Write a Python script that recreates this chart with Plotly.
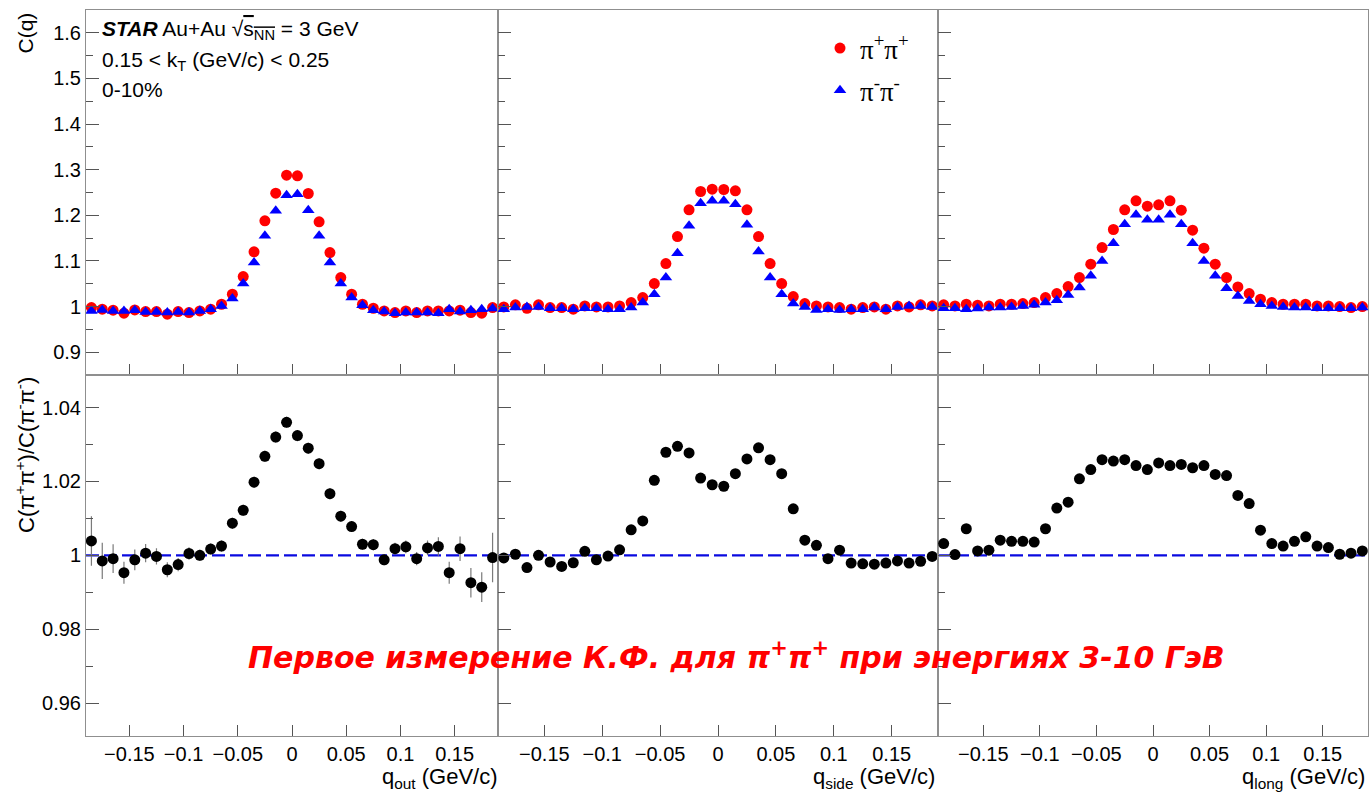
import plotly.graph_objects as go

# ---------------- data ----------------
q_bins = [-0.185, -0.175, -0.165, -0.155, -0.145, -0.135, -0.125, -0.115, -0.105, -0.095,
          -0.085, -0.075, -0.065, -0.055, -0.045, -0.035, -0.025, -0.015, -0.005, 0.005,
          0.015, 0.025, 0.035, 0.045, 0.055, 0.065, 0.075, 0.085, 0.095, 0.105,
          0.115, 0.125, 0.135, 0.145, 0.155, 0.165, 0.175, 0.185]

out_pp = [0.9978, 0.9942, 0.9920, 0.9854, 0.9927, 0.9890, 0.9890, 0.9832, 0.9890, 0.9868,
          0.9905, 0.9942, 1.0051, 1.0270, 1.0658, 1.1199, 1.1879, 1.2485, 1.2880, 1.2865,
          1.2478, 1.1857, 1.1184, 1.0636, 1.0270, 1.0051, 0.9963, 0.9905, 0.9868, 0.9905,
          0.9868, 0.9905, 0.9905, 0.9905, 0.9920, 0.9868, 0.9854, 0.9978]
out_mm = [0.9905, 0.9927, 0.9905, 0.9905, 0.9920, 0.9883, 0.9883, 0.9868, 0.9883, 0.9868,
          0.9905, 0.9942, 1.0015, 1.0175, 1.0504, 1.0965, 1.1550, 1.2098, 1.2442, 1.2463,
          1.2113, 1.1550, 1.0965, 1.0504, 1.0197, 1.0029, 0.9920, 0.9890, 0.9854, 0.9868,
          0.9868, 0.9868, 0.9854, 0.9942, 0.9890, 0.9920, 0.9942, 0.9956]

side_pp = [0.9993, 1.0037, 0.9963, 1.0037, 0.9978, 0.9978, 0.9942, 1.0015, 0.9993, 0.9993,
           1.0015, 1.0088, 1.0197, 1.0504, 1.0943, 1.1535, 1.2120, 1.2522, 1.2573, 1.2566,
           1.2537, 1.2120, 1.1535, 1.0943, 1.0504, 1.0219, 1.0066, 1.0015, 0.9993, 0.9978,
           0.9942, 0.9978, 0.9993, 0.9942, 1.0015, 0.9993, 1.0037, 1.0015]
side_mm = [0.9942, 0.9978, 0.9993, 0.9993, 0.9963, 0.9963, 0.9942, 0.9963, 0.9963, 0.9942,
           0.9942, 0.9978, 1.0088, 1.0270, 1.0636, 1.1170, 1.1769, 1.2266, 1.2317, 1.2317,
           1.2244, 1.1791, 1.1206, 1.0636, 1.0270, 1.0066, 0.9993, 0.9927, 0.9942, 0.9927,
           0.9942, 0.9942, 0.9978, 0.9942, 0.9993, 1.0015, 1.0015, 0.9993]

long_pp = [1.0037, 1.0015, 1.0051, 1.0029, 1.0015, 1.0051, 1.0051, 1.0066, 1.0088, 1.0197,
           1.0285, 1.0439, 1.0636, 1.0928, 1.1294, 1.1689, 1.2120, 1.2317, 1.2200, 1.2230,
           1.2317, 1.2113, 1.1674, 1.1279, 1.0928, 1.0636, 1.0431, 1.0285, 1.0161, 1.0088,
           1.0051, 1.0051, 1.0051, 1.0015, 1.0015, 1.0000, 0.9978, 1.0000]
long_mm = [0.9963, 0.9963, 0.9942, 0.9956, 0.9978, 0.9978, 0.9993, 1.0015, 1.0037, 1.0088,
           1.0139, 1.0256, 1.0417, 1.0673, 1.1001, 1.1389, 1.1806, 1.2010, 1.1901, 1.1901,
           1.2010, 1.1806, 1.1389, 1.1001, 1.0673, 1.0402, 1.0234, 1.0124, 1.0051, 1.0015,
           0.9993, 0.9978, 0.9978, 0.9963, 0.9963, 0.9963, 0.9963, 0.9978]

ratio_out = [1.0039, 0.9985, 0.9991, 0.9953, 0.9988, 1.0006, 0.9997, 0.9961, 0.9975, 1.0005,
             1.0000, 1.0017, 1.0025, 1.0087, 1.0122, 1.0198, 1.0268, 1.0320, 1.0360, 1.0324,
             1.0290, 1.0248, 1.0167, 1.0106, 1.0078, 1.0030, 1.0029, 0.9988, 1.0018, 1.0023,
             0.9991, 1.0020, 1.0024, 0.9953, 1.0018, 0.9926, 0.9914, 0.9994]
ratio_out_err = [0.0067, 0.0049, 0.0039, 0.0030, 0.0028, 0.0025, 0.0022, 0.0020, 0.0018, 0.0017,
                 0.0015, 0.0015, 0.0015, 0.0015, 0.0015, 0.0015, 0.0015, 0.0015, 0.0015, 0.0015,
                 0.0015, 0.0015, 0.0015, 0.0015, 0.0015, 0.0015, 0.0015, 0.0015, 0.0016, 0.0017,
                 0.0018, 0.0020, 0.0025, 0.0030, 0.0033, 0.0040, 0.0040, 0.0067]
ratio_side = [0.9993, 1.0003, 0.9967, 1.0000, 0.9982, 0.9970, 0.9980, 1.0011, 0.9988, 0.9998,
              1.0015, 1.0069, 1.0093, 1.0203, 1.0279, 1.0295, 1.0277, 1.0209, 1.0191, 1.0187,
              1.0221, 1.0261, 1.0291, 1.0259, 1.0221, 1.0126, 1.0041, 1.0027, 0.9991, 1.0014,
              0.9979, 0.9977, 0.9976, 0.9979, 0.9985, 0.9979, 0.9984, 0.9997]
ratio_long = [1.0032, 1.0002, 1.0072, 1.0012, 1.0014, 1.0041, 1.0038, 1.0038, 1.0036, 1.0072,
              1.0128, 1.0144, 1.0207, 1.0232, 1.0259, 1.0255, 1.0259, 1.0243, 1.0232, 1.0250,
              1.0243, 1.0246, 1.0237, 1.0243, 1.0219, 1.0216, 1.0162, 1.0140, 1.0068, 1.0032,
              1.0025, 1.0038, 1.0050, 1.0025, 1.0021, 1.0003, 1.0006, 1.0012]

x_titles = ["q<sub>out</sub> (GeV/c)", "q<sub>side</sub> (GeV/c)", "q<sub>long</sub> (GeV/c)"]

# ---------------- style ----------------
W, H = 1369, 795
FONT = "Liberation Sans"
FRAME = "#8f8f8f"
TICKC = "#555555"
RED = "#ff0000"
BLUE = "#0000ff"

def px_x(p):
    return p / W

def px_y(p):
    return (H - p) / H

x_doms = [[px_x(86), px_x(498)], [px_x(498), px_x(938)], [px_x(938), px_x(1368)]]
y_top = [px_y(375), px_y(10)]
y_bot = [px_y(735.7), px_y(375)]

fig = go.Figure()

top_sets = [(out_pp, out_mm), (side_pp, side_mm), (long_pp, long_mm)]
ratios = [(ratio_out, ratio_out_err), (ratio_side, None), (ratio_long, None)]

for i, (pp, mm) in enumerate(top_sets):
    xa = "x" if i == 0 else f"x{i+1}"
    ya = "y" if i == 0 else f"y{i+1}"
    fig.add_trace(go.Scatter(x=q_bins, y=pp, mode="markers", xaxis=xa, yaxis=ya,
                             marker=dict(symbol="circle", size=11, color=RED),
                             name="π<sup>+</sup>π<sup>+</sup>", legendgroup="pp",
                             showlegend=(i == 0)))
    fig.add_trace(go.Scatter(x=q_bins, y=mm, mode="markers", xaxis=xa, yaxis=ya,
                             marker=dict(symbol="triangle-up", size=11, color=BLUE),
                             name="π<sup>-</sup>π<sup>-</sup>", legendgroup="mm",
                             showlegend=(i == 0)))

for i, (r, e) in enumerate(ratios):
    xa = f"x{i+4}"
    ya = f"y{i+4}"
    err = None
    if e is not None:
        err = dict(type="data", array=e, visible=True, color="#7a7a7a", thickness=1.2, width=0)
    fig.add_trace(go.Scatter(x=q_bins, y=r, mode="markers", xaxis=xa, yaxis=ya,
                             marker=dict(symbol="circle", size=11, color="black"),
                             error_y=err, showlegend=False))

axis_common = dict(showgrid=False, zeroline=False, showline=True, linecolor=FRAME,
                   linewidth=1, mirror=True, ticks="inside", tickcolor=TICKC,
                   tickwidth=1, tickfont=dict(family=FONT, size=20, color="black"))

layout = {}
for i in range(6):
    xname = "xaxis" if i == 0 else f"xaxis{i+1}"
    yname = "yaxis" if i == 0 else f"yaxis{i+1}"
    xa_id = "x" if i == 0 else f"x{i+1}"
    ya_id = "y" if i == 0 else f"y{i+1}"
    col = i % 3
    top = i < 3
    layout[xname] = dict(axis_common, domain=x_doms[col], anchor=ya_id,
                         range=[-0.19, 0.19], tick0=0, dtick=0.05, ticklen=11,
                         showticklabels=not top)
    if top:
        layout[yname] = dict(axis_common, domain=y_top, anchor=xa_id,
                             range=[0.85, 1.65], tick0=0.9, dtick=0.1, ticklen=13,
                             minor=dict(ticks="inside", dtick=0.05, tick0=0.9, ticklen=6.5,
                                        tickcolor=TICKC, tickwidth=1),
                             showticklabels=(col == 0))
    else:
        layout[yname] = dict(axis_common, domain=y_bot, anchor=xa_id,
                             range=[0.9512, 1.0488], tick0=0.96, dtick=0.02, ticklen=13,
                             minor=dict(ticks="inside", dtick=0.01, tick0=0.96, ticklen=6.5,
                                        tickcolor=TICKC, tickwidth=1),
                             showticklabels=(col == 0))

fig.update_layout(**layout)

# dashed reference line at 1 in ratio panels
for i in range(3):
    fig.add_shape(type="line", xref=f"x{i+4} domain", yref=f"y{i+4}",
                  x0=0, x1=1, y0=1, y1=1, layer="below",
                  line=dict(color="#0a0ae0", width=2.4, dash="13px,5px"))

ann = []
ann.append(dict(x=px_x(100), y=px_y(30), xref="paper", yref="paper", xanchor="left",
                yanchor="middle", showarrow=False,
                text="<b><i>STAR</i></b> Au+Au √<span style='text-decoration:overline'>s<sub>NN</sub></span> = 3 GeV",
                font=dict(family=FONT, size=21, color="black")))
ann.append(dict(x=px_x(100), y=px_y(61), xref="paper", yref="paper", xanchor="left",
                yanchor="middle", showarrow=False,
                text="0.15 < k<sub>T</sub> (GeV/c) < 0.25",
                font=dict(family=FONT, size=21, color="black")))
ann.append(dict(x=px_x(100), y=px_y(90), xref="paper", yref="paper", xanchor="left",
                yanchor="middle", showarrow=False, text="0-10%",
                font=dict(family=FONT, size=21, color="black")))
# axis titles
ann.append(dict(x=px_x(25), y=px_y(10), xref="paper", yref="paper", xanchor="center",
                yanchor="top", showarrow=False, textangle=-90, text="C(q)",
                font=dict(family=FONT, size=21, color="black")))
ann.append(dict(x=px_x(25), y=px_y(375), xref="paper", yref="paper", xanchor="center",
                yanchor="top", showarrow=False, textangle=-90,
                text="C(π<sup>+</sup>π<sup>+</sup>)/C(π<sup>-</sup>π<sup>-</sup>)",
                font=dict(family=FONT, size=22, color="black")))
for i, xr in enumerate([500, 937, 1367]):
    ann.append(dict(x=px_x(xr), y=px_y(778), xref="paper", yref="paper", xanchor="right",
                    yanchor="middle", showarrow=False, text=x_titles[i],
                    font=dict(family=FONT, size=22, color="black")))
# highlighted remark
ann.append(dict(x=px_x(736), y=px_y(655), xref="paper", yref="paper", xanchor="center",
                yanchor="middle", showarrow=False,
                text="<b><i>Первое измерение К.Ф. для π<sup>+</sup>π<sup>+</sup> при энергиях 3-10 ГэВ</i></b>",
                font=dict(family="DejaVu Sans", size=30, color="#ff0000")))

fig.update_layout(
    width=W, height=H,
    margin=dict(l=0, r=0, t=0, b=0),
    paper_bgcolor="white", plot_bgcolor="white",
    annotations=ann,
    showlegend=True,
    legend=dict(x=px_x(820), y=px_y(24), xanchor="left", yanchor="top",
                bgcolor="rgba(0,0,0,0)", borderwidth=0,
                font=dict(family="Liberation Serif", size=27, color="black"),
                tracegroupgap=4, itemsizing="trace"),
)

fig.write_html("out.html")
